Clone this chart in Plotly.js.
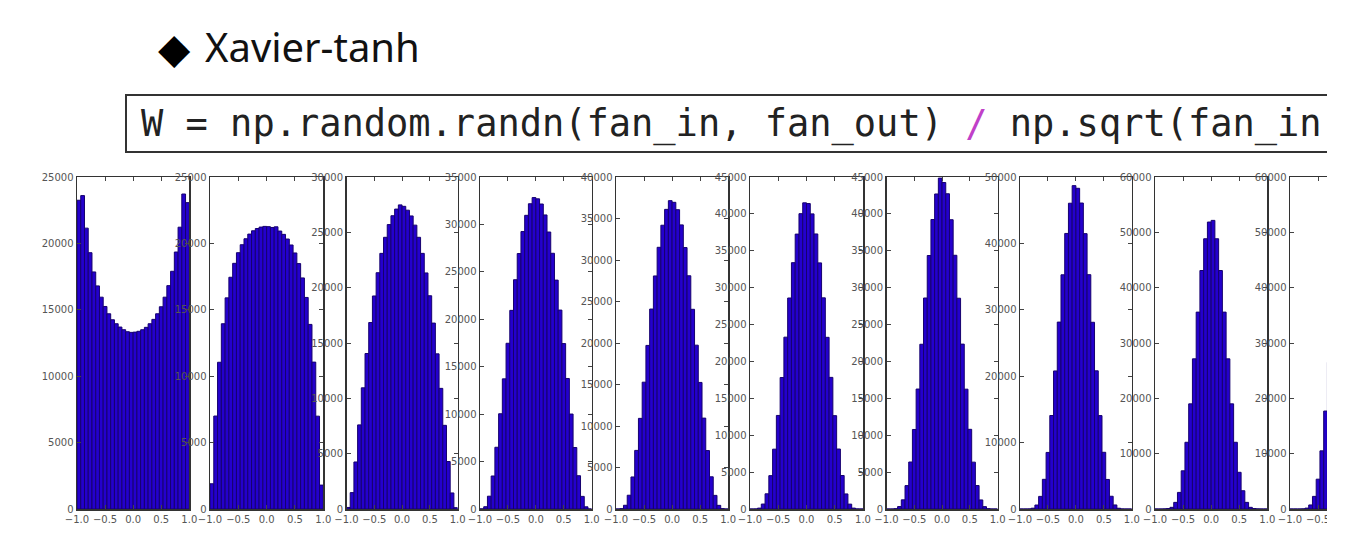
<!DOCTYPE html>
<html>
<head>
<meta charset="utf-8">
<script src="https://cdn.plot.ly/plotly-3.0.1.min.js"></script>
<style>
html,body{margin:0;padding:0;background:#ffffff;}
#chart{width:1365px;height:554px;}
</style>
</head>
<body>
<div id="chart"></div>
<script>
// ---------------- data (30-bin histograms of tanh activations, range -1..1) ----------------
const binCount = 30;
const xTickVals = [-1, -0.5, 0, 0.5, 1];
const xTickText = ['−1.0', '−0.5', '0.0', '0.5', '1.0'];

const layer1 = [23250, 23600, 21150, 19300, 17850, 16800, 15950, 15250, 14700, 14250, 13950, 13700, 13500, 13350, 13300,
                13320, 13380, 13500, 13680, 13950, 14280, 14700, 15230, 15950, 16820, 17900, 19350, 21220, 23720, 23070];
const layer2 = [1900, 7000, 11050, 13950, 15900, 17450, 18500, 19300, 19900, 20350, 20700, 20950, 21120, 21230, 21280,
                21260, 21200, 21250, 20930, 20680, 20330, 19880, 19280, 18480, 17400, 15930, 13900, 11060, 6990, 1800];
const layer3 = [140, 1480, 4250, 7600, 10950, 14050, 16850, 19250, 21350, 23100, 24550, 25700, 26500, 27100, 27480,
                27350, 27000, 26480, 25650, 24550, 23100, 21330, 19270, 16800, 14020, 10900, 7560, 4290, 1450, 120];
const layer4 = [10, 240, 1350, 3480, 6510, 10040, 13720, 17470, 20940, 24170, 26930, 29250, 30960, 32180, 32830,
                32700, 32150, 31000, 29200, 26960, 24130, 20970, 17440, 13760, 10010, 6480, 3510, 1330, 230, 6];
const layer5 = [0, 40, 450, 1660, 3860, 7060, 10920, 15280, 19710, 24090, 28080, 31530, 34190, 36100, 37150,
                36950, 36060, 34230, 31500, 28100, 24060, 19740, 15250, 10950, 7040, 3880, 1640, 440, 45, 0];
const layer6 = [0, 5, 120, 670, 2060, 4520, 8110, 12680, 17820, 23290, 28600, 33390, 37260, 40030, 41500,
                41400, 40000, 37280, 33360, 28620, 23270, 17840, 12650, 8130, 4540, 2040, 660, 120, 5, 0];
const layer7 = [0, 0, 40, 330, 1240, 3170, 6370, 10780, 16260, 22330, 28600, 34360, 39240, 42700, 44850,
                44250, 42730, 39210, 34390, 28570, 22350, 16240, 10800, 6350, 3180, 1230, 320, 45, 0, 0];
const layer8 = [0, 0, 10, 120, 600, 1900, 4470, 8520, 14080, 20790, 28150, 35270, 41500, 46050, 48700,
                48300, 46080, 41470, 35290, 28120, 20810, 14070, 8540, 4450, 1920, 610, 115, 10, 0, 0];
const layer9 = [0, 0, 20, 80, 300, 1200, 3000, 6900, 12060, 19000, 27140, 35580, 43100, 48840, 51860,
                52160, 48840, 43100, 35580, 27140, 19000, 12060, 6630, 3300, 1200, 300, 80, 20, 0, 0];
const layer10 = [0, 0, 0, 20, 160, 730, 2280, 5390, 10510, 17700, 26510, 35880, 44580, 51290, 54940,
                 54900, 51300, 44570, 35890, 26500, 17710, 10500, 5380, 2270, 740, 160, 20, 0, 0, 0];

const layers = [layer1, layer2, layer3, layer4, layer5, layer6, layer7, layer8, layer9, layer10];
const yMax  = [25000, 25000, 30000, 35000, 40000, 45000, 45000, 50000, 60000, 60000];
const yStep = [5000, 5000, 5000, 5000, 5000, 5000, 5000, 10000, 10000, 10000];

const titleText = 'Xavier-tanh';
const codeBefore = 'W = np.random.randn(fan_in, fan_out) ';
const codeSlash = '/';
const codeAfter = ' np.sqrt(fan_in';

// ---------------- layout geometry (pixels) ----------------
const W = 1365, H = 554;
const panelLeft  = [77, 210, 346.5, 480, 616, 750, 886.5, 1020, 1155, 1290];
const panelRight = [189.3, 323.3, 457.6, 591.7, 728.2, 863, 997.6, 1131.8, 1267.3, 1402.3];
const panelTop = 177, panelBottom = 509;
const cropX = 1327;

const binWidth = 2 / binCount;
const binCenters = Array.from({length: binCount}, (_, i) => -1 + (i + 0.5) * binWidth);

const traces = [];
const layout = {
  width: W, height: H,
  margin: {l: 0, r: 0, t: 0, b: 0, pad: 0},
  paper_bgcolor: '#ffffff',
  plot_bgcolor: '#ffffff',
  showlegend: false,
  bargap: 0,
  shapes: [],
  annotations: []
};

const tickFont = {family: 'DejaVu Sans, sans-serif', size: 10, color: '#555555'};

layers.forEach((vals, i) => {
  const n = i + 1;
  const xa = n === 1 ? 'xaxis' : 'xaxis' + n;
  const ya = n === 1 ? 'yaxis' : 'yaxis' + n;
  const xr = n === 1 ? 'x' : 'x' + n;
  const yr = n === 1 ? 'y' : 'y' + n;

  traces.push({
    type: 'bar',
    x: binCenters,
    y: vals,
    width: binWidth,
    xaxis: xr, yaxis: yr,
    marker: {color: 'rgb(36,0,205)', line: {color: 'rgb(22,0,110)', width: 1}},
    hoverinfo: 'skip'
  });

  const left = panelLeft[i], right = panelRight[i];
  let d1 = right / W, xMaxRange = 1;
  if (d1 > 1) {
    d1 = 1;
    xMaxRange = -1 + 2 * (W - left) / (right - left);
  }
  layout[xa] = {
    domain: [left / W, d1],
    anchor: yr,
    range: [-1, xMaxRange],
    tickvals: xTickVals, ticktext: xTickText,
    ticks: 'inside', ticklen: 4, tickwidth: 1, tickcolor: '#444',
    showline: true, linecolor: '#333', linewidth: 1.5, mirror: 'ticks',
    showgrid: false, zeroline: false,
    tickfont: tickFont
  };
  layout[ya] = {
    domain: [1 - panelBottom / H, 1 - panelTop / H],
    anchor: xr,
    range: [0, yMax[i]],
    tick0: 0, dtick: yStep[i], tickformat: 'd',
    ticks: 'inside', ticklen: 4, tickwidth: 1, tickcolor: '#444',
    showline: true, linecolor: '#333', linewidth: 1.5, mirror: 'ticks',
    showgrid: false, zeroline: false,
    tickfont: tickFont
  };
});

// code box
layout.shapes.push({
  type: 'rect', xref: 'paper', yref: 'paper', layer: 'below',
  x0: 126 / W, x1: 1345 / W, y0: 1 - 152 / H, y1: 1 - 95 / H,
  line: {color: '#333333', width: 2}, fillcolor: '#ffffff'
});
// crop cover (source picture ends at the right)
layout.shapes.push({
  type: 'rect', xref: 'paper', yref: 'paper', layer: 'above',
  x0: cropX / W, x1: 1, y0: 0, y1: 1,
  line: {width: 0}, fillcolor: '#ffffff'
});

layout.annotations.push({
  xref: 'paper', yref: 'paper', x: 175 / W, y: 1 - 48 / H,
  xanchor: 'center', yanchor: 'middle', showarrow: false,
  text: '◆', font: {family: 'DejaVu Sans', size: 42, color: '#000000'}
});
layout.annotations.push({
  xref: 'paper', yref: 'paper', x: 203 / W, y: 1 - 47 / H,
  xanchor: 'left', yanchor: 'middle', showarrow: false,
  text: titleText, font: {family: 'Noto Sans, Open Sans, sans-serif', size: 40, color: '#111111'}
});
layout.annotations.push({
  xref: 'paper', yref: 'paper', x: 139 / W, y: 1 - 124 / H,
  xanchor: 'left', yanchor: 'middle', showarrow: false,
  text: codeBefore + '<span style="color:#c040c8">' + codeSlash + '</span>' + codeAfter,
  font: {family: 'DejaVu Sans Mono, monospace', size: 37, color: '#222222'}
});

Plotly.newPlot('chart', traces, layout, {displayModeBar: false, staticPlot: true});
</script>
</body>
</html>
